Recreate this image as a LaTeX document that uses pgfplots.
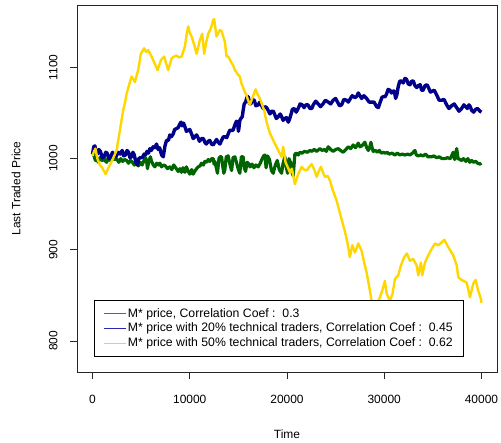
\documentclass[border=0pt]{standalone}
\usepackage{fontspec}
\setmainfont{Liberation Sans}
\usepackage{pgfplots}
\pgfplotsset{compat=1.18}
\definecolor{rgreen}{RGB}{0,100,0}
\definecolor{rblue}{RGB}{0,0,139}
\definecolor{rgold}{RGB}{255,215,0}
\definecolor{lgreen}{RGB}{30,150,30}
\definecolor{lblue}{RGB}{40,40,180}
\definecolor{lgold}{RGB}{255,215,0}
\begin{document}
\begin{tikzpicture}
\useasboundingbox (-77bp,-71bp) rectangle (424bp,372bp);
\begin{axis}[
  at={(0,0)}, anchor=south west,
  scale only axis, width=420bp, height=367bp,
  xmin=-1600, xmax=41600, ymin=766, ymax=1168.5,
  axis line style={draw=black!85, line width=0.9bp},
  every tick/.style={black!85, line width=0.9bp},
  tick align=outside, major tick length=7bp,
  tick pos=left,
  xtick={0,10000,20000,30000,40000},
  ytick={800,900,1000,1100},
  scaled x ticks=false, scaled y ticks=false,
  /pgf/number format/1000 sep={},
  /pgf/number format/assume math mode=true,
  tick label style={font=\fontsize{12}{14}\selectfont},
  xticklabel shift=13bp,
  yticklabel shift=9bp,
  yticklabel style={rotate=90, anchor=south},
  xlabel={Time}, ylabel={Last Traded Price},
  label style={font=\fontsize{12}{14}\selectfont},
  xlabel style={at={(axis description cs:0.5,-0.169)}, anchor=center},
  ylabel style={at={(axis description cs:-0.145,0.5)}, anchor=center},
  legend cell align=left,
  legend style={at={(axis description cs:0.0405,0.042)}, anchor=south west,
    draw=black, line width=0.75bp, font=\fontsize{12.3}{14}\selectfont,
    inner xsep=9bp, inner ysep=6bp, row sep=0bp,
    nodes={inner sep=1.5bp, text height=8.8bp, text depth=2.7bp},
    /tikz/every even column/.append style={column sep=8bp}},
  every axis plot/.append style={line join=round},
]
\addplot[rgreen, line width=3.2bp, forget plot] coordinates {
(0,1007)(150,1003)(300,998)(450,1000)(580,996)(750,1001)(1000,998)(1150,1001)(1270,998)(1450,996)
(1600,1001)(1800,998)(2000,1002)(2250,999)(2470,1000)(2700,996)(2900,1000)(3100,997)(3300,999)(3500,998)
(3700,995)(3900,998)(4100,996)(4300,993)(4530,995)(4700,992)(4900,996)(5100,993)(5300,998)(5450,1001)
(5560,997)(5650,989)(5800,998)(5950,1002)(6070,997)(6250,993)(6410,991)(6600,995)(6800,993)(6920,995)
(7100,991)(7300,993)(7500,992)(7700,989)(7950,991)(8150,988)(8350,993)(8550,990)(8800,986)(8980,989)
(9150,985)(9300,990)(9500,985)(9650,991)(9800,987)(10000,983)(10200,988)(10350,983)(10500,986)(10700,989)
(10870,991)(11050,992)(11210,995)(11400,993)(11550,997)(11730,996)(11900,999)(12070,997)(12250,1000)(12410,1000)
(12500,994)(12580,997)(12750,989)(12850,984)(13000,1000)(13100,1002)(13270,1002)(13400,991)(13500,984)(13610,988)
(13750,1002)(13950,1003)(14100,995)(14300,987)(14450,1001)(14640,1002)(14800,996)(15000,988)(15150,984)(15300,1002)
(15490,1002)(15600,990)(15740,986)(15900,996)(16010,995)(16200,991)(16400,994)(16600,990)(16800,993)(17040,991)
(17250,995)(17450,1000)(17600,1003)(17730,1004)(17850,990)(18000,1003)(18200,999)(18400,987)(18580,984)(18800,993)
(19000,998)(19200,988)(19440,984)(19600,995)(19780,1002)(19900,992)(20060,984)(20200,1000)(20400,995)(20550,984)
(20640,981)(20810,1005)(21000,1006)(21150,1004)(21330,1007)(21550,1006)(21800,1008)(22100,1007)(22360,1009)(22550,1008)
(22800,1010)(23050,1008)(23390,1011)(23600,1009)(23850,1010)(24050,1008)(24240,1013)(24500,1010)(24750,1008)(25000,1010)
(25270,1011)(25500,1009)(25780,1007)(26050,1010)(26300,1013)(26550,1011)(26810,1015)(27050,1012)(27330,1017)(27500,1013)
(27700,1014)(28010,1018)(28200,1012)(28360,1009)(28500,1012)(28630,1018)(28750,1012)(28870,1008)(29100,1009)(29300,1007)
(29500,1009)(29700,1006)(29900,1007)(30100,1006)(30300,1007)(30500,1005)(30800,1006)(31100,1004)(31350,1006)(31600,1004)
(31850,1005)(32130,1004)(32400,1005)(32650,1004)(32900,1006)(33160,1009)(33300,1004)(33500,1003)(33750,1004)(34000,1003)
(34250,1005)(34500,1002)(34880,1002)(35100,1003)(35400,1001)(35650,1002)(35950,1000)(36250,1000)(36500,1001)(36800,1000)
(37100,1007)(37250,999)(37450,1011)(37600,1000)(37800,999)(37960,998)(38150,1000)(38400,997)(38600,1000)(38800,996)
(39000,998)(39160,996)(39400,997)(39600,995)(39850,994)(40000,995)
};
\addplot[rblue, line width=3.4bp, forget plot] coordinates {
(0,1005)(120,1013)(240,1014)(375,1006)(510,1005)(650,1010)(800,1008)(1000,1001)(1190,1002)(1350,1007)
(1500,1006)(1700,1000)(1880,1002)(2050,1007)(2200,1004)(2400,1002)(2630,1007)(2850,1005)(3050,1009)(3200,1003)
(3390,1004)(3550,1009)(3700,1007)(3850,1001)(4010,1002)(4150,1007)(4300,1004)(4450,996)(4630,993)(4750,1000)
(4900,1001)(5100,1001)(5310,1005)(5450,1004)(5600,1008)(5750,1006)(5900,1011)(6050,1009)(6230,1013)(6400,1012)
(6580,1016)(6750,1010)(6900,1012)(7100,1004)(7270,1002)(7450,1014)(7610,1020)(7800,1020)(7950,1026)(8100,1024)
(8290,1027)(8450,1032)(8640,1033)(8800,1034)(8980,1038)(9100,1040)(9200,1036)(9350,1039)(9500,1035)(9650,1030)
(9850,1031)(10000,1032)(10190,1027)(10350,1022)(10520,1024)(10700,1026)(10850,1023)(11000,1019)(11210,1022)(11400,1022)
(11550,1018)(11700,1016)(11900,1019)(12050,1020)(12240,1016)(12400,1015)(12580,1018)(12750,1021)(12920,1018)(13100,1016)
(13270,1020)(13450,1024)(13610,1024)(13800,1023)(13950,1027)(14100,1031)(14300,1031)(14450,1031)(14640,1037)(14800,1041)
(14920,1040)(15000,1030)(15050,1033)(15150,1042)(15260,1044)(15400,1046)(15490,1053)(15600,1060)(15740,1062)(15900,1068)
(16010,1068)(16150,1060)(16280,1060)(16450,1065)(16630,1064)(16800,1058)(17040,1059)(17200,1062)(17400,1058)(17550,1055)
(17730,1057)(17900,1056)(18060,1053)(18250,1049)(18400,1052)(18600,1052)(18750,1048)(18900,1044)(19100,1046)(19300,1049)
(19450,1046)(19600,1042)(19780,1044)(19950,1045)(20130,1040)(20250,1043)(20400,1048)(20550,1054)(20740,1055)(20950,1051)
(21150,1055)(21350,1060)(21560,1059)(21750,1056)(21950,1059)(22150,1059)(22360,1055)(22550,1055)(22700,1059)(22950,1063)
(23210,1060)(23450,1057)(23700,1060)(23950,1064)(24240,1062)(24500,1060)(24750,1064)(25000,1066)(25200,1062)(25400,1058)
(25620,1059)(25850,1065)(26130,1064)(26300,1062)(26470,1065)(26700,1069)(26990,1067)(27150,1068)(27330,1072)(27500,1069)
(27670,1066)(27900,1069)(28190,1066)(28450,1062)(28700,1062)(28950,1062)(29220,1057)(29400,1056)(29560,1061)(29750,1067)
(29900,1068)(30100,1068)(30250,1071)(30400,1076)(30590,1075)(30750,1072)(30900,1074)(31050,1074)(31170,1066)(31300,1070)
(31440,1079)(31600,1085)(31790,1085)(31950,1083)(32130,1088)(32300,1087)(32470,1082)(32650,1081)(32820,1085)(33000,1085)
(33160,1080)(33350,1078)(33500,1080)(33700,1081)(33850,1075)(34000,1075)(34190,1080)(34400,1081)(34550,1078)(34750,1073)
(34950,1074)(35150,1075)(35390,1070)(35650,1064)(35900,1064)(36150,1065)(36420,1059)(36650,1055)(36930,1058)(37200,1060)
(37450,1056)(37700,1052)(37960,1055)(38200,1059)(38380,1057)(38550,1055)(38720,1059)(38850,1057)(38990,1053)(39200,1051)
(39400,1054)(39600,1055)(39850,1052)(40000,1051)
};
\addplot[rgold, line width=2.4bp, forget plot] coordinates {
(0,1003)(150,1008)(300,1011)(500,1000)(750,993)(1000,990)(1340,983)(1550,988)(1780,993)(2100,1000)
(2470,1009)(2810,1031)(3150,1053)(3350,1062)(3500,1071)(3840,1084)(4010,1090)(4200,1087)(4350,1084)(4690,1097)
(4970,1115)(5310,1121)(5500,1117)(5720,1119)(6070,1112)(6400,1104)(6690,1097)(7030,1108)(7370,1112)(7580,1104)
(7780,1097)(8130,1110)(8400,1112)(8640,1113)(8900,1111)(9160,1112)(9500,1123)(9700,1138)(9840,1145)(10000,1138)
(10190,1134)(10450,1125)(10700,1115)(11040,1130)(11280,1137)(11480,1115)(11700,1128)(11900,1137)(12170,1143)(12410,1152)
(12510,1153)(12750,1134)(12950,1138)(13100,1141)(13270,1140)(13440,1134)(13610,1128)(13780,1112)(13950,1112)(14150,1108)
(14470,1102)(14640,1097)(14980,1092)(15150,1090)(15330,1082)(15670,1073)(15840,1069)(16180,1059)(16420,1066)(16770,1076)
(17000,1070)(17210,1066)(17650,1053)(17900,1040)(18240,1028)(18680,1018)(19100,1009)(19440,1002)(19610,1013)(19850,996)
(20100,990)(20300,985)(20500,989)(20810,972)(21150,983)(21500,991)(21750,988)(22020,987)(22300,991)(22530,994)
(22800,988)(23050,980)(23300,987)(23490,991)(23700,985)(23900,980)(24200,981)(24450,975)(24660,967)(25100,954)
(25550,936)(25960,920)(26230,907)(26470,892)(26710,905)(26990,897)(27330,907)(27670,899)(27940,886)(28190,875)
(28530,855)(28700,844)(28970,833)(29220,839)(29560,848)(29790,855)(30070,866)(30250,852)(30590,844)(30860,852)
(31100,868)(31440,872)(31720,883)(32060,892)(32330,896)(32640,888)(32980,890)(33330,883)(33500,872)(33770,886)
(33910,872)(34190,886)(34530,894)(34880,901)(35220,907)(35560,905)(35900,908)(36180,911)(36580,903)(37100,894)
(37450,883)(37620,870)(37960,867)(38480,864)(38820,848)(39160,863)(39400,867)(39670,855)(39950,846)(40000,842)
};
\addlegendimage{legend image code/.code={\draw[draw=lgreen, line width=1bp] (0bp,0bp) -- (22bp,0bp);}}
\addlegendentry{M* price, Correlation Coef :\ \ 0.3}
\addlegendimage{legend image code/.code={\draw[draw=lblue, line width=1bp] (0bp,0bp) -- (22bp,0bp);}}
\addlegendentry{M* price with 20\% technical traders, Correlation Coef :\ \ 0.45}
\addlegendimage{legend image code/.code={\draw[draw=lgold, line width=0.8bp] (0bp,0bp) -- (22bp,0bp);}}
\addlegendentry{M* price with 50\% technical traders, Correlation Coef :\ \ 0.62}
\end{axis}
\end{tikzpicture}
\end{document}
